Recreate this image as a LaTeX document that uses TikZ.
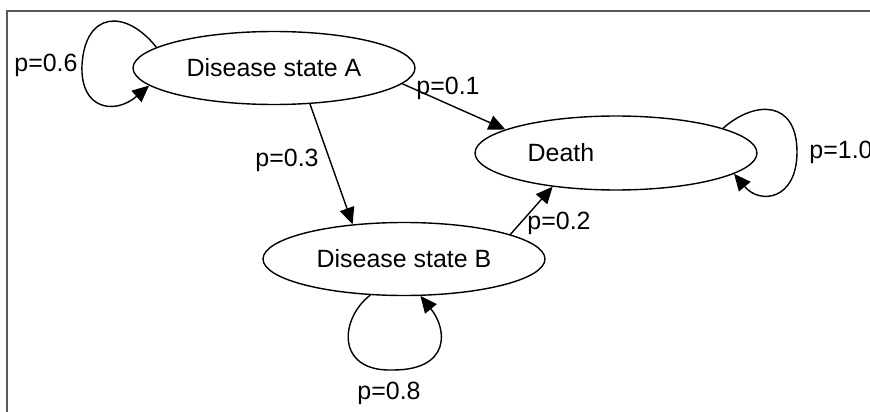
\documentclass[tikz,border=0pt]{standalone}
\usepackage{fontspec}
\setmainfont{Liberation Sans}
\usetikzlibrary{shapes.geometric, arrows.meta}

\begin{document}
\begin{tikzpicture}[x=0.02cm, y=-0.02cm, every node/.style={font=\fontsize{14.2pt}{17pt}\selectfont}, state/.style={ellipse, draw, thick, minimum width=5.64cm, minimum height=1.46cm, inner sep=0pt}, prob/.style={inner sep=1pt}, >={Triangle[length=9.5pt, width=8.5pt]}]
        \useasboundingbox (0,0) rectangle (870,412);
        % Frame
        \draw[gray!70!black, line width=0.6pt] (7,412) -- (7,11) -- (870,11);

        % Nodes
        \node[state] (stA) at (274,68) {Disease state A};
        \node[state, minimum height=1.48cm] (death) at (616,153) {Death\hspace*{2.2cm}};
        \node[state] (stB) at (404,259) {Disease state B};

        % Labels
        \node[prob] (lblAA) at (46,65) {p=0.6};
        \node[prob] (lblAD) at (448,88) {p=0.1};
        \node[prob] (lblAB) at (287,160) {p=0.3};
        \node[prob] (lblBD) at (559,223) {p=0.2};
        \node[prob] (lblDD) at (841,152) {p=1.0};
        \node[prob] (lblBB) at (389,393) {p=0.8};

        % Transitions
        \draw[->, thick] (stA.-7) -- (death.168);
        \draw[->, thick] (stA.-45) -- (stB.146);
        \draw[->, thick] (stB.13) -- (death.208);

        % Self loops
        \draw[->, thick] (stA.170) .. controls (125,8) and (85,12) .. (82,65) .. controls (80,110) and (115,115) .. (stA.188);
        \draw[->, thick] (death.13) .. controls (755,100) and (797,100) .. (797,152) .. controls (797,200) and (760,205) .. (death.-10);
        \draw[->, thick] (stB.227) .. controls (340,318) and (335,372) .. (393,370) .. controls (450,370) and (448,330) .. (stB.294);
\end{tikzpicture}
\end{document}
